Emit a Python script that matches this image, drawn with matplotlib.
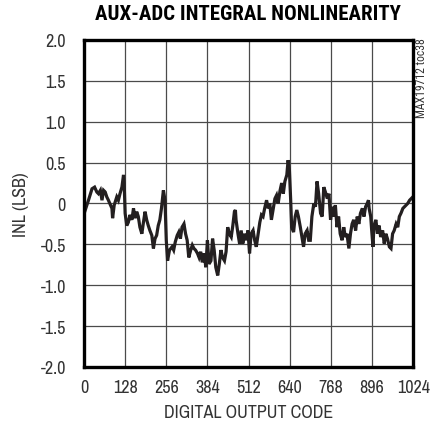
import matplotlib
matplotlib.use("Agg")
import matplotlib.pyplot as plt

plt.rcParams['font.family'] = ['Archivo Narrow', 'Roboto Condensed', 'DejaVu Sans']

# INL curve (code, LSB)
codes = [0, 4, 14, 25, 33, 40, 45, 51, 56, 61, 66, 71, 76, 87, 89, 94, 102, 107, 112, 118,
         123, 125, 128, 133, 138, 143, 149, 154, 159, 164, 169, 174, 180, 185, 190, 195, 200,
         205, 211, 216, 221, 226, 231, 236, 241, 247, 252,
         256, 260, 266, 274, 279, 284, 290, 295, 300, 305, 311, 316, 321, 326, 332, 337, 342,
         347, 353, 358, 363, 368, 374, 379, 384, 389, 395, 400, 405, 410, 416, 421, 426, 431,
         437, 442, 447, 452, 458, 463, 468, 471, 473, 479, 484, 489, 494, 500, 505, 510,
         512, 515, 520, 526, 531, 536, 541, 547, 552, 557, 562, 568, 573, 578, 583, 589, 594,
         599, 604, 610, 615, 620, 625, 631, 635, 639, 643, 646, 652, 657, 662, 667, 673, 678,
         683, 688, 694, 699, 704, 709, 715, 720, 725, 730, 736, 741, 746, 751, 757, 762, 767,
         773, 776, 782, 787, 792, 797, 803, 808, 813, 818, 824, 829, 834, 839, 845, 850, 855,
         860, 866, 871, 876, 881, 885, 887, 892, 895, 899, 902, 908, 913, 918, 923, 929, 934,
         939, 944, 950, 955, 960, 965, 971, 976, 981, 986, 992, 997, 1002, 1007, 1013, 1018, 1023]
inl = [-0.04, -0.08, 0.04, 0.18, 0.20, 0.14, 0.12, 0.16, 0.04, 0.16, 0.14, 0.08, 0.04, -0.06,
       -0.18, -0.02, 0.08, 0.04, 0.12, 0.20, 0.35, 0.25, -0.12, -0.27, -0.23, -0.14, -0.20,
       -0.06, -0.18, -0.10, -0.16, -0.29, -0.37, -0.23, -0.10, -0.20, -0.27, -0.33, -0.39,
       -0.55, -0.43, -0.39, -0.27, -0.20, -0.06, 0.16, 0.04,
       -0.45, -0.70, -0.57, -0.53, -0.57, -0.47, -0.39, -0.35, -0.43, -0.29, -0.25, -0.37,
       -0.45, -0.66, -0.57, -0.51, -0.55, -0.57, -0.61, -0.66, -0.59, -0.72, -0.61, -0.78,
       -0.45, -0.74, -0.70, -0.43, -0.57, -0.78, -0.88, -0.74, -0.57, -0.66, -0.70, -0.59,
       -0.29, -0.37, -0.41, -0.27, -0.10, -0.08, -0.20, -0.37, -0.49, -0.33, -0.49, -0.37,
       -0.45, -0.33,
       -0.45, -0.61, -0.37, -0.33, -0.45, -0.53, -0.39, -0.23, -0.14, -0.16, -0.06, 0.04,
       -0.06, 0.00, -0.20, -0.06, 0.06, 0.10, 0.00, 0.16, 0.25, 0.12, 0.27, 0.35, 0.53, 0.41,
       0.04, -0.29, -0.35, -0.16, -0.08, -0.16, -0.29, -0.41, -0.53, -0.37, -0.33, -0.45,
       -0.45, -0.16, 0.00, -0.04, 0.27, 0.12, -0.12, -0.16, 0.20, 0.14, 0.06, 0.12, -0.20,
       -0.04, -0.16, -0.02, -0.29, -0.16, -0.37, -0.45, -0.29, -0.41, -0.37, -0.55, -0.37,
       -0.25, -0.20, -0.33, -0.16, -0.25, -0.12, -0.06, -0.16, -0.04, 0.00, 0.04, -0.06,
       -0.16, -0.33, -0.53, -0.27, -0.20, -0.37, -0.27, -0.41, -0.33, -0.49, -0.37, -0.43,
       -0.53, -0.55, -0.37, -0.33, -0.25, -0.29, -0.16, -0.12, -0.06, -0.04, -0.02, 0.00,
       0.04, 0.06, 0.08]

xticks = [0, 128, 256, 384, 512, 640, 768, 896, 1024]
yticks = [-2.0, -1.5, -1.0, -0.5, 0, 0.5, 1.0, 1.5, 2.0]
ytick_labels = ['-2.0', '-1.5', '-1.0', '-0.5', '0', '0.5', '1.0', '1.5', '2.0']

fig = plt.figure(figsize=(4.32, 4.31), dpi=100)
ax = fig.add_axes([0.1944, 0.1462, 0.762, 0.7587])

ax.plot(codes, inl, color='#231f20', linewidth=2.3, solid_joinstyle='miter')

ax.set_xlim(0, 1024)
ax.set_ylim(-2.0, 2.0)
ax.set_xticks(xticks)
ax.set_yticks(yticks)
ax.set_yticklabels(ytick_labels)
ax.grid(True, color='#4a4a4a', linewidth=0.9)
ax.tick_params(length=0, labelsize=13, colors='#333333')
ax.tick_params(axis='x', pad=9)
ax.tick_params(axis='y', pad=13)
for s in ax.spines.values():
    s.set_linewidth(2.4)
    s.set_color('black')

ax.set_xlabel('DIGITAL OUTPUT CODE', fontsize=13, color='#333333', labelpad=6)
ax.set_ylabel('INL (LSB)', fontsize=13, color='#333333', labelpad=8)

fig.text(0.575, 0.967, 'AUX-ADC INTEGRAL NONLINEARITY', ha='center', va='center',
         fontsize=15, fontweight='bold', color='black',
         family=['Roboto Condensed', 'DejaVu Sans'])
fig.text(0.975, 0.912, 'MAX19712 toc38', rotation=90, ha='center', va='top',
         fontsize=8.5, color='#333333', family=['Roboto Condensed', 'DejaVu Sans'])

fig.savefig('out.png', dpi=100)
